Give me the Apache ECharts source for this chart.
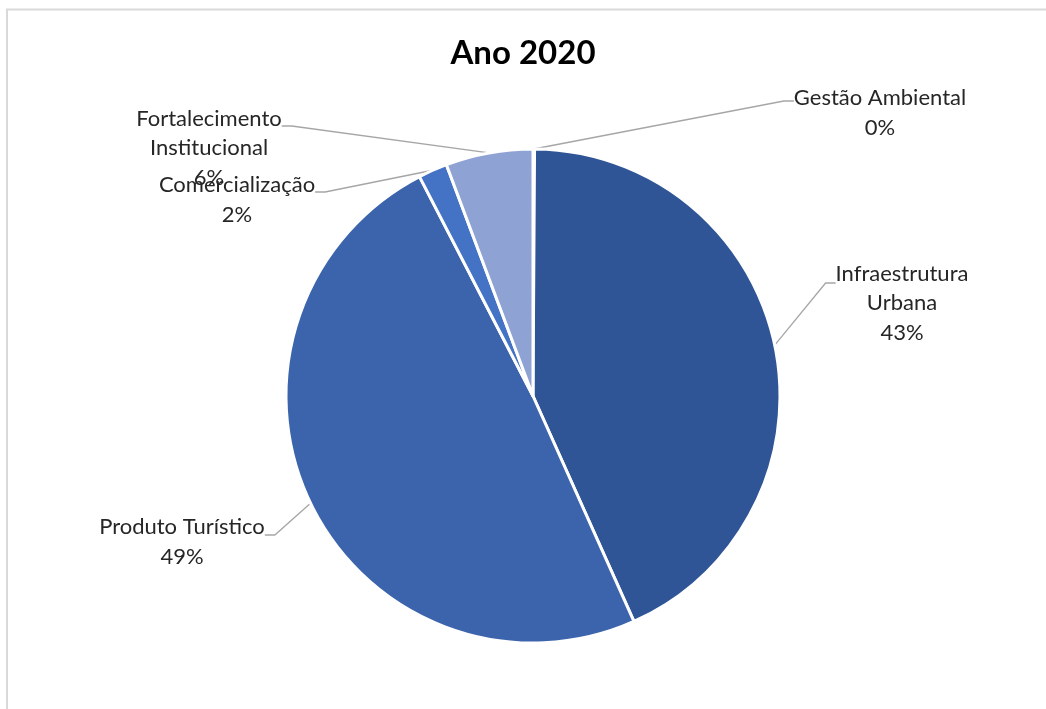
<!DOCTYPE html>
<html>
<head>
<meta charset="utf-8">
<script src="https://cdn.jsdelivr.net/npm/echarts@6/dist/echarts.min.js"></script>
<style>
  html, body { margin: 0; padding: 0; background: #fff; }
  #chart { width: 1046px; height: 709px; }
</style>
</head>
<body>
<div id="chart"></div>
<script>
// Participação por área temática — Ano 2020 (%)
const categories = [
  'Gestão Ambiental',
  'Infraestrutura\nUrbana',
  'Produto Turístico',
  'Comercialização',
  'Fortalecimento\nInstitucional'
];
const shares = [0.1, 43.2, 49.1, 1.9, 5.7];
const sliceColors = ['#b4c5e6', '#2f5597', '#3b64ad', '#4472c4', '#8fa2d4'];

// label text-block centres, in the same order as the categories
const labelSpots = [
  [880, 113],
  [902, 303],
  [182, 542],
  [237, 200],
  [209, 148]
];
// height at which each leader line meets its label
const leaderY = [101, 283, 535, 192, 126];

const textStyle = { fontFamily: 'Lato', fontSize: 22, lineHeight: 29.5, color: '#262626', align: 'center' };

const chart = echarts.init(document.getElementById('chart'), null, { renderer: 'canvas' });

chart.setOption({
  animation: false,
  backgroundColor: '#ffffff',
  graphic: [{
    type: 'rect',
    shape: { x: 7, y: 9.5, width: 1100, height: 800 },
    style: { fill: 'none', stroke: '#d9d9d9', lineWidth: 2 },
    silent: true
  }],
  title: {
    text: 'Ano 2020',
    left: 'center',
    top: 32,
    textStyle: { fontFamily: 'Lato', fontWeight: 'bold', fontSize: 33, color: '#000' }
  },
  series: [{
    type: 'pie',
    center: [533, 396],
    radius: [0, 247],
    startAngle: 90,
    clockwise: true,
    avoidLabelOverlap: false,
    data: categories.map((name, i) => {
      // an empty spacer line on top moves the label box's mid-height up to where the leader attaches
      const gap = 2 * (labelSpots[i][1] - leaderY[i]);
      return {
        name: name,
        value: shares[i],
        itemStyle: { color: sliceColors[i] },
        label: {
          rich: {
            pad: { height: gap, lineHeight: gap, fontSize: 1 },
            t: textStyle
          }
        }
      };
    }),
    itemStyle: { borderColor: '#ffffff', borderWidth: 3 },
    label: {
      show: true,
      position: 'outside',
      formatter: p => {
        const lines = (p.name + '\n' + Math.round(p.percent) + '%').split('\n');
        return '{pad| }\n' + lines.map(s => '{t|' + s + '}').join('\n');
      },
      ...textStyle
    },
    labelLine: {
      show: true,
      length: 20,
      length2: 10,
      lineStyle: { color: '#a6a6a6', width: 1.3 }
    },
    labelLayout: params => ({
      x: labelSpots[params.dataIndex][0],
      y: leaderY[params.dataIndex],
      align: 'center',
      verticalAlign: 'middle'
    })
  }]
});
</script>
</body>
</html>
